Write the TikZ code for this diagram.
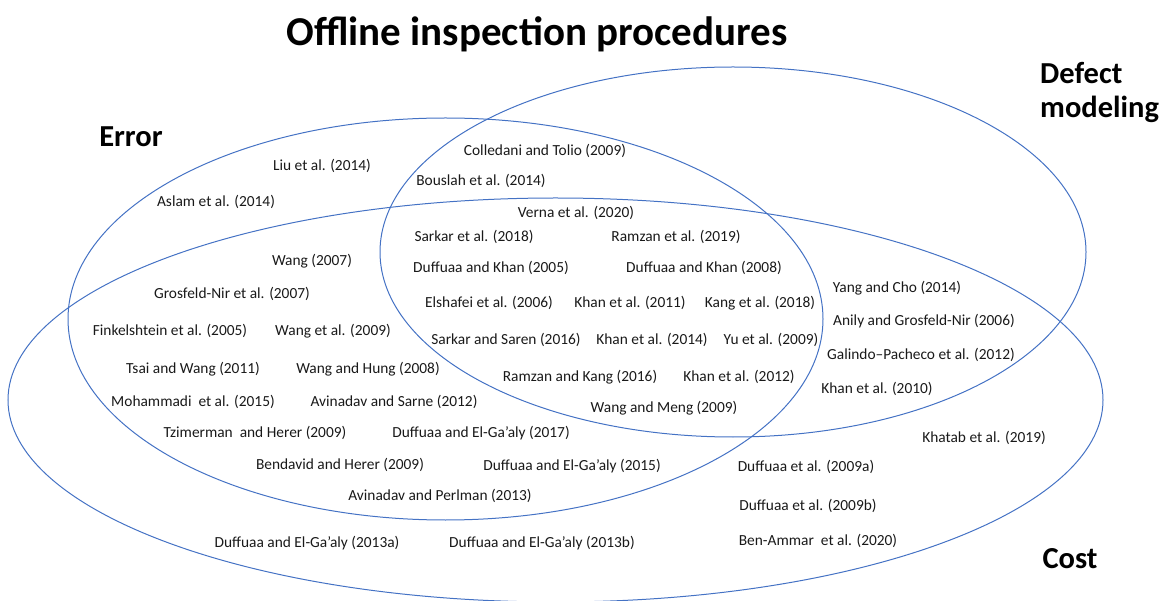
\documentclass[tikz,border=0pt]{standalone}
\usepackage{fontspec}
\setmainfont{Carlito}
\colorlet{tcol}{black!90}
\definecolor{colS}{rgb}{.267,.447,.769}
\tikzstyle{venn}=[line width=1pt,colS]
\tikzstyle{paper}=[font=\fontsize{15.4}{18}\selectfont, tcol, inner sep=0pt]
\tikzstyle{setname}=[font=\bfseries\fontsize{30.5}{36}\selectfont, inner sep=0pt, anchor=base]
\tikzstyle{heading}=[font=\bfseries\fontsize{41}{48}\selectfont, inner sep=0pt, anchor=base]

\begin{document}
\begin{tikzpicture}[x=1pt,y=-1pt]
			\useasboundingbox (0,0) rectangle (1170,601);
			% the three sets
			\draw[venn] (445.5,319) ellipse [x radius=377.5pt, y radius=201pt];
			\draw[venn] (733,252) ellipse [x radius=353pt, y radius=185pt];
			\draw[venn] (555.5,400) ellipse [x radius=547.5pt, y radius=202pt];
			\node[heading] (title) at (537,46) {Offline inspection procedures};
			\node[setname] (error) at (131,147) {Error};
			\node[setname, anchor=base west] (defect) at (1040,84) {Defect};
			\node[setname, anchor=base west] (modeling) at ([yshift=-34pt]defect.base west) {modeling};
			\node[setname] (cost) at (1070,568) {Cost};
			% error only
			\node[paper] (liu14) at (322,166) {Liu et al. (2014)};
			\node[paper] (aslam14) at (216,202) {Aslam et al. (2014)};
			% error and defect
			\node[paper] (colledani09) at (545,151) {Colledani and Tolio (2009)};
			\node[paper] (bouslah14) at (481,181) {Bouslah et al. (2014)};
			% all three
			\node[paper] (verna20) at (576,213) {Verna et al. (2020)};
			\node[paper] (sarkar18) at (474,237) {Sarkar et al. (2018)};
			\node[paper] (ramzan19) at (676,237) {Ramzan et al. (2019)};
			\node[paper] (duffuaa05) at (491,268) {Duffuaa and Khan (2005)};
			\node[paper] (duffuaa08) at (704,268) {Duffuaa and Khan (2008)};
			\node[paper] (elshafei06) at (489,303) {Elshafei et al. (2006)};
			\node[paper] (khan11) at (630,303) {Khan et al. (2011)};
			\node[paper] (kang18) at (760,303) {Kang et al. (2018)};
			\node[paper] (sarkar16) at (506,340) {Sarkar and Saren (2016)};
			\node[paper] (khan14) at (652,340) {Khan et al. (2014)};
			\node[paper] (yu09) at (771,340) {Yu et al. (2009)};
			\node[paper] (ramzan16) at (580,377) {Ramzan and Kang (2016)};
			\node[paper] (khan12) at (739,377) {Khan et al. (2012)};
			\node[paper] (wangm09) at (664,408) {Wang and Meng (2009)};
			% error and cost
			\node[paper] (wang07) at (312,261) {Wang (2007)};
			\node[paper] (grosfeld07) at (232,294) {Grosfeld-Nir et al. (2007)};
			\node[paper] (finkel05) at (170,331) {Finkelshtein et al. (2005)};
			\node[paper] (wang09) at (333,331) {Wang et al. (2009)};
			\node[paper] (tsai11) at (193,369) {Tsai and Wang (2011)};
			\node[paper] (wangh08) at (368,369) {Wang and Hung (2008)};
			\node[paper] (moham15) at (193,402) {Mohammadi\ \ et al. (2015)};
			\node[paper] (avinadav12) at (394,402) {Avinadav and Sarne (2012)};
			\node[paper] (tzimer09) at (255,433) {Tzimerman\ \ and Herer (2009)};
			\node[paper] (elgaaly17) at (481,433) {Duffuaa and El-Ga’aly (2017)};
			\node[paper] (bendavid09) at (340,465) {Bendavid and Herer (2009)};
			\node[paper] (elgaaly15) at (572,466) {Duffuaa and El-Ga’aly (2015)};
			\node[paper] (avinadav13) at (440,496) {Avinadav and Perlman (2013)};
			% defect and cost
			\node[paper] (yang14) at (897,288) {Yang and Cho (2014)};
			\node[paper] (anily06) at (924,321) {Anily and Grosfeld-Nir (2006)};
			\node[paper] (galindo12) at (921,355) {Galindo–Pacheco et al. (2012)};
			\node[paper] (khan10) at (877,389) {Khan et al. (2010)};
			% cost only
			\node[paper] (khatab19) at (984,438) {Khatab et al. (2019)};
			\node[paper] (duffuaa09a) at (806,467) {Duffuaa et al. (2009a)};
			\node[paper] (duffuaa09b) at (808,506) {Duffuaa et al. (2009b)};
			\node[paper] (benammar20) at (818,541) {Ben-Ammar\ \ et al. (2020)};
			\node[paper] (elgaaly13a) at (307,543) {Duffuaa and El-Ga’aly (2013a)};
			\node[paper] (elgaaly13b) at (542,543) {Duffuaa and El-Ga’aly (2013b)};
		\end{tikzpicture}
\end{document}
